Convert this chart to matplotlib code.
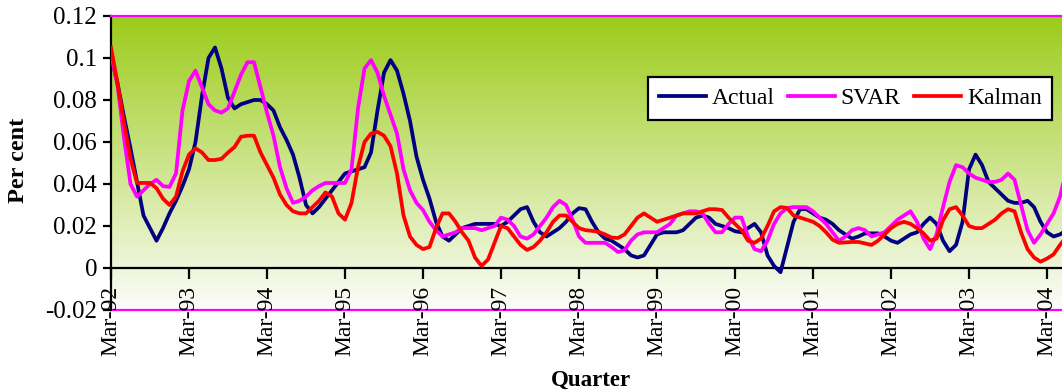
import numpy as np
import matplotlib
matplotlib.use('Agg')
from matplotlib import pyplot as plt

# monthly observations, Mar-92 onwards
actual = [0.101, 0.088, 0.072, 0.057, 0.041, 0.025, 0.019, 0.013, 0.019, 0.026,
          0.032, 0.039, 0.047, 0.060, 0.082, 0.100, 0.105, 0.095, 0.081, 0.076,
          0.078, 0.079, 0.080, 0.080, 0.078, 0.075, 0.067, 0.061, 0.054, 0.043,
          0.030, 0.026, 0.029, 0.033, 0.037, 0.041, 0.045, 0.046, 0.047, 0.048,
          0.055, 0.075, 0.093, 0.099, 0.094, 0.083, 0.070, 0.053, 0.042, 0.033,
          0.022, 0.015, 0.013, 0.016, 0.019, 0.020, 0.021, 0.021, 0.021, 0.021,
          0.020, 0.022, 0.025, 0.028, 0.029, 0.022, 0.017, 0.015, 0.017, 0.019,
          0.022, 0.026, 0.0285, 0.028, 0.022, 0.017, 0.014, 0.013, 0.011, 0.009,
          0.006, 0.005, 0.006, 0.011, 0.016, 0.017, 0.017, 0.017, 0.018, 0.021,
          0.024, 0.025, 0.024, 0.021, 0.020, 0.019, 0.0175, 0.017, 0.019, 0.021,
          0.017, 0.006, 0.001, -0.002, 0.010, 0.022, 0.028, 0.028, 0.026, 0.024,
          0.023, 0.021, 0.018, 0.016, 0.014, 0.015, 0.0165, 0.0165, 0.0165, 0.015,
          0.013, 0.012, 0.014, 0.016, 0.017, 0.021, 0.024, 0.021, 0.013, 0.008,
          0.011, 0.022, 0.047, 0.054, 0.049, 0.041, 0.038, 0.035, 0.032, 0.031,
          0.031, 0.032, 0.029, 0.022, 0.017, 0.015, 0.016, 0.018]

svar = [0.102, 0.087, 0.062, 0.040, 0.034, 0.037, 0.040, 0.042, 0.039, 0.0386,
        0.045, 0.075, 0.089, 0.094, 0.086, 0.078, 0.075, 0.074, 0.076, 0.084,
        0.092, 0.098, 0.098, 0.086, 0.074, 0.063, 0.048, 0.038, 0.031, 0.032,
        0.034, 0.037, 0.039, 0.0405, 0.0405, 0.0405, 0.0405, 0.047, 0.076, 0.095,
        0.099, 0.093, 0.082, 0.073, 0.064, 0.047, 0.037, 0.031, 0.0276, 0.022,
        0.018, 0.015, 0.016, 0.017, 0.019, 0.019, 0.019, 0.018, 0.019, 0.020,
        0.024, 0.023, 0.020, 0.015, 0.014, 0.016, 0.020, 0.024, 0.029, 0.032,
        0.030, 0.023, 0.015, 0.012, 0.012, 0.012, 0.012, 0.010, 0.0076, 0.0085,
        0.013, 0.016, 0.017, 0.017, 0.017, 0.019, 0.021, 0.025, 0.026, 0.027,
        0.027, 0.026, 0.021, 0.017, 0.017, 0.021, 0.024, 0.024, 0.015, 0.009,
        0.008, 0.013, 0.021, 0.026, 0.0286, 0.029, 0.029, 0.029, 0.027, 0.024,
        0.021, 0.017, 0.013, 0.015, 0.018, 0.019, 0.018, 0.015, 0.016, 0.017,
        0.020, 0.023, 0.025, 0.027, 0.022, 0.014, 0.009, 0.016, 0.029, 0.041,
        0.049, 0.048, 0.045, 0.043, 0.042, 0.041, 0.041, 0.042, 0.045, 0.042,
        0.030, 0.018, 0.012, 0.016, 0.021, 0.026, 0.034, 0.047]

kalman = [0.105, 0.088, 0.069, 0.052, 0.0405, 0.0405, 0.0405, 0.038, 0.033, 0.030,
          0.034, 0.046, 0.054, 0.057, 0.055, 0.0514, 0.0514, 0.052, 0.055, 0.0576,
          0.0625, 0.063, 0.063, 0.055, 0.049, 0.043, 0.035, 0.030, 0.027, 0.026,
          0.026, 0.029, 0.032, 0.036, 0.034, 0.026, 0.023, 0.031, 0.048, 0.060,
          0.064, 0.0648, 0.063, 0.058, 0.045, 0.025, 0.015, 0.011, 0.009, 0.010,
          0.019, 0.026, 0.026, 0.022, 0.017, 0.013, 0.005, 0.001, 0.004, 0.012,
          0.020, 0.019, 0.015, 0.011, 0.0086, 0.010, 0.013, 0.017, 0.022, 0.025,
          0.025, 0.022, 0.019, 0.018, 0.0177, 0.0172, 0.016, 0.0145, 0.0143, 0.016,
          0.020, 0.024, 0.026, 0.024, 0.022, 0.023, 0.024, 0.025, 0.026, 0.026,
          0.026, 0.027, 0.028, 0.028, 0.0276, 0.024, 0.021, 0.018, 0.013, 0.012,
          0.014, 0.020, 0.027, 0.029, 0.0286, 0.025, 0.024, 0.023, 0.022, 0.020,
          0.017, 0.0135, 0.012, 0.0122, 0.0124, 0.0124, 0.0117, 0.011, 0.013, 0.016,
          0.019, 0.021, 0.022, 0.021, 0.019, 0.0165, 0.013, 0.014, 0.0228, 0.028,
          0.029, 0.025, 0.020, 0.019, 0.019, 0.021, 0.023, 0.026, 0.028, 0.027,
          0.017, 0.009, 0.005, 0.003, 0.0045, 0.0065, 0.011, 0.015]

xtick_labels = ['Mar-92', 'Mar-93', 'Mar-94', 'Mar-95', 'Mar-96', 'Mar-97', 'Mar-98',
                'Mar-99', 'Mar-00', 'Mar-01', 'Mar-02', 'Mar-03', 'Mar-04']
ytick_values = [-0.02, 0, 0.02, 0.04, 0.06, 0.08, 0.1, 0.12]
ytick_labels = ['-0.02', '0', '0.02', '0.04', '0.06', '0.08', '0.1', '0.12']

plt.rcParams['font.family'] = ['Liberation Serif', 'DejaVu Serif']

months = np.arange(len(actual))
xmax = 146.3
ymin, ymax = -0.02, 0.12

fig = plt.figure(figsize=(10.62, 3.91), dpi=100)
ax = fig.add_axes([111 / 1062, 81 / 391, 951 / 1062, 294 / 391])

# green to white gradient behind the plot area
top = np.array([0.61, 0.80, 0.10])
bottom = np.array([0.99, 0.99, 0.98])
t = np.linspace(0, 1, 256)[:, None]
grad = (top * (1 - t) + bottom * t)[:, None, :]
ax.imshow(grad, extent=(0, xmax, ymin, ymax), aspect='auto', origin='upper',
          interpolation='bilinear', zorder=0)

lw = 2.7
ax.plot(months, actual, color='#000080', lw=lw, label='Actual', zorder=3)
ax.plot(months, svar, color='#FF00FF', lw=lw, label='SVAR', zorder=3)
ax.plot(months, kalman, color='#FF0000', lw=lw, label='Kalman', zorder=3)

ax.set_xlim(0, xmax)
ax.set_ylim(ymin, ymax)

# plot area border in magenta, axis lines in black
ax.spines['right'].set_visible(False)
ax.spines['top'].set_color('#FF00FF')
ax.spines['top'].set_linewidth(1.6)
ax.spines['left'].set_color('black')
ax.spines['left'].set_linewidth(1.6)
ax.spines['bottom'].set_position(('data', 0))
ax.spines['bottom'].set_color('black')
ax.spines['bottom'].set_linewidth(1.6)
ax.axhline(ymin, color='#FF00FF', lw=1.6, zorder=1, clip_on=False)

ax.set_xticks(np.arange(0, 145, 12))
ax.set_xticklabels(xtick_labels, rotation=90, fontsize=17)
ax.set_yticks(ytick_values)
ax.set_yticklabels(ytick_labels, fontsize=18)
ax.tick_params(axis='x', direction='out', length=8, width=1.6, pad=5)
ax.tick_params(axis='y', direction='out', length=6, width=1.6, pad=4)

fig.text(18 / 1062, 1 - 160 / 391, 'Per cent', rotation=90, fontsize=17.5,
         fontweight='bold', ha='center', va='center')
fig.text(591 / 1062, 1 - 380 / 391, 'Quarter', fontsize=16.5,
         fontweight='bold', ha='center', va='center')

leg = ax.legend(loc='upper left', bbox_to_anchor=(648 / 1062, 1 - 77 / 391),
                bbox_transform=fig.transFigure, ncol=3, fontsize=17,
                frameon=True, fancybox=False, borderpad=0.45, handlelength=2.0,
                handletextpad=0.25, columnspacing=0.55, borderaxespad=0)
leg.get_frame().set_edgecolor('black')
leg.get_frame().set_linewidth(1.6)
leg.get_frame().set_facecolor('white')
leg.get_frame().set_alpha(1)

fig.savefig('out.png', dpi=100)
